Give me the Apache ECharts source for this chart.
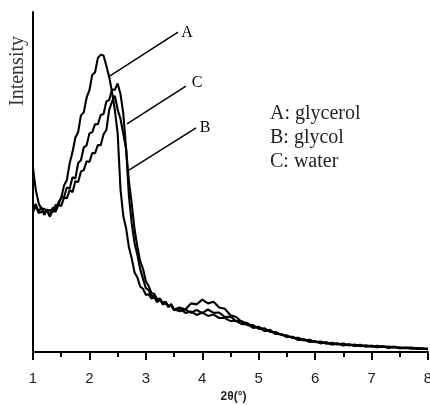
<!DOCTYPE html>
<html>
<head>
<meta charset="utf-8">
<script src="https://cdn.jsdelivr.net/npm/echarts@6/dist/echarts.min.js"></script>
<style>
html,body{margin:0;padding:0;background:#fff;}
#chart{width:430px;height:405px;}
</style>
</head>
<body>
<div id="chart"></div>
<script>
// 2θ (degrees)
var twoTheta = [1.00,1.05,1.10,1.15,1.20,1.25,1.30,1.35,1.40,1.45,1.50,1.55,1.60,1.65,1.70,1.75,1.80,1.85,1.90,1.95,
2.00,2.05,2.10,2.15,2.20,2.25,2.30,2.35,2.40,2.45,2.50,2.55,2.60,2.65,2.70,2.75,2.80,2.85,2.90,2.95,
3.00,3.05,3.10,3.15,3.20,3.25,3.30,3.35,3.40,3.45,3.50,
3.6,3.7,3.8,3.9,4.0,4.1,4.2,4.3,4.4,4.5,4.6,4.7,4.8,4.9,5.0,5.1,5.2,5.3,5.4,5.5,5.6,5.7,5.8,5.9,
6.0,6.1,6.2,6.3,6.4,6.5,6.6,6.7,6.8,6.9,7.0,7.1,7.2,7.3,7.4,7.5,7.6,7.7,7.8,7.9,8.0];

// A: glycerol
var glycerol = [42.4,43.5,41.2,42.6,40.3,42.0,40.0,42.5,41.9,44.0,45.3,49.0,50.6,55.5,58.8,63.0,64.7,69.6,70.5,74.8,
77.0,81.5,82.3,86.5,87.4,87.2,84.2,80.9,76.5,71.2,64.4,48.0,40.0,36.4,30.8,27.5,23.4,21.9,19.2,18.6,
16.8,17.0,15.7,16.1,14.6,15.6,14.0,14.3,13.6,13.6,12.5,
13.1,12.5,14.3,14.0,15.4,14.3,14.8,13.1,12.7,10.8,10.3,8.8,8.5,7.3,7.4,6.2,6.5,5.3,5.3,4.4,4.4,3.5,3.8,3.0,
3.2,2.6,2.9,2.3,2.6,2.0,2.3,1.9,2.1,1.6,1.9,1.4,1.7,1.3,1.6,1.1,1.3,1.0,1.2,0.9,1.0];

// B: glycol
var glycol = [41.2,42.9,40.9,41.2,41.1,41.5,39.8,41.8,41.2,43.3,42.9,45.4,45.2,47.6,47.0,50.2,50.0,53.1,53.5,56.1,
55.9,58.5,58.5,60.9,60.8,64.0,65.3,71.2,73.6,75.4,71.3,68.6,64.2,59.7,50.2,43.6,36.1,30.9,26.7,24.4,
20.8,19.4,17.3,17.1,15.5,15.7,14.4,14.8,13.5,13.6,12.3,
12.8,11.5,11.9,10.9,11.6,10.6,11.0,10.0,10.0,9.1,9.1,8.2,8.2,7.1,7.4,6.2,6.3,5.3,5.2,4.5,4.5,3.6,3.7,3.0,
3.1,2.6,2.7,2.2,2.4,1.9,2.2,1.8,1.9,1.6,1.7,1.4,1.6,1.2,1.4,1.1,1.2,1.1,0.9,1.0,0.8];

// C: water
var water = [54.1,47.6,43.8,42.0,42.1,41.4,41.8,41.1,43.3,43.1,45.5,45.6,48.4,48.1,51.4,51.0,55.6,56.4,60.2,60.8,
64.3,64.6,67.0,67.0,69.7,70.0,73.7,74.1,77.2,77.1,79.0,75.9,70.2,59.8,45.8,37.8,32.0,28.5,24.3,21.5,
18.8,18.2,16.4,16.6,15.2,15.1,14.6,14.5,13.2,14.1,12.6,
12.0,12.5,11.5,12.4,11.4,12.5,11.5,11.6,10.3,10.4,9.1,9.1,7.9,7.9,6.8,7.0,5.9,5.9,5.0,4.9,4.1,4.2,3.4,3.6,
2.9,3.1,2.4,2.7,2.2,2.5,1.9,2.2,1.7,2.0,1.6,1.8,1.5,1.6,1.4,1.4,1.2,1.3,1.1,1.1,0.8];

var xTicks = [1,2,3,4,5,6,7,8];
var curveLetters = ['A','B','C'];
var legendLines = ['A: glycerol','B: glycol','C: water'];
// annotation leader lines: [start 2θ, start I, end 2θ, end I, label 2θ, label I]
var leaderA = [2.365,81.2,3.57,94.1,3.73,93.8];
var leaderB = [2.70,53.5,3.89,65.9,4.05,65.9];
var leaderC = [2.666,67.1,3.71,78.2,3.906,79.1];

function pairs(ys){ return twoTheta.map(function(x,i){ return [x, ys[i]]; }); }
function lineSeries(name, ys, ld, letter){
  return {
    name: name, type:'line', data: pairs(ys), symbol:'none', smooth:false,
    lineStyle:{color:'#000', width:2.1}, itemStyle:{color:'#000'}, animation:false,
    markLine: {
      silent: true, symbol: ['none','none'], animation: false,
      lineStyle: {color:'#000', width:1.5, type:'solid'},
      label: {show:false},
      data: [[{coord:[ld[0],ld[1]]},{coord:[ld[2],ld[3]]}]]
    },
    markPoint: {
      silent: true, animation: false, symbol: 'circle', symbolSize: 0,
      label: {show:true, position:'inside', formatter: letter, color:'#000',
        fontFamily:'Liberation Serif', fontSize:16},
      data: [{coord:[ld[4],ld[5]]}]
    }
  };
}

var chart = echarts.init(document.getElementById('chart'), null, {renderer:'canvas'});
chart.setOption({
  backgroundColor:'#fff',
  animation:false,
  grid:{left:33, right:2, top:12, bottom:53, containLabel:false, outerBoundsMode:'none'},
  xAxis:{
    type:'value', min:1, max:8, interval:1,
    axisLine:{show:true, lineStyle:{color:'#000', width:2}},
    axisTick:{show:true, length:8, lineStyle:{color:'#000', width:2}},
    minorTick:{show:true, splitNumber:2, length:5, lineStyle:{color:'#000', width:2}},
    splitLine:{show:false},
    axisLabel:{margin:19, color:'#222', fontFamily:'Liberation Sans', fontSize:15,
      formatter:function(v){ return xTicks.indexOf(v) >= 0 ? String(v) : ''; }},
    name:'2θ(°)', nameLocation:'middle', nameGap:38,
    nameTextStyle:{color:'#222', fontFamily:'Liberation Sans', fontSize:12, fontWeight:'bold', padding:[0,0,0,6]}
  },
  yAxis:{
    type:'value', min:0, max:100,
    axisLine:{show:true, lineStyle:{color:'#000', width:2}},
    axisTick:{show:false}, axisLabel:{show:false}, splitLine:{show:false}
  },
  series:[
    lineSeries('glycerol', glycerol, leaderA, curveLetters[0]),
    lineSeries('glycol', glycol, leaderB, curveLetters[1]),
    lineSeries('water', water, leaderC, curveLetters[2])
  ],
  graphic:[
    {type:'text', x:18, y:71, rotation:Math.PI/2,
      style:{text:'Intensity', fill:'#333', font:'20px "Liberation Serif"', textAlign:'center', textVerticalAlign:'middle'}},
    {type:'text', left:270, top:104, style:{text:legendLines[0], fill:'#222', font:'20px "Liberation Serif"'}},
    {type:'text', left:270, top:128, style:{text:legendLines[1], fill:'#222', font:'20px "Liberation Serif"'}},
    {type:'text', left:270, top:152, style:{text:legendLines[2], fill:'#222', font:'20px "Liberation Serif"'}}
  ]
});
</script>
</body>
</html>
